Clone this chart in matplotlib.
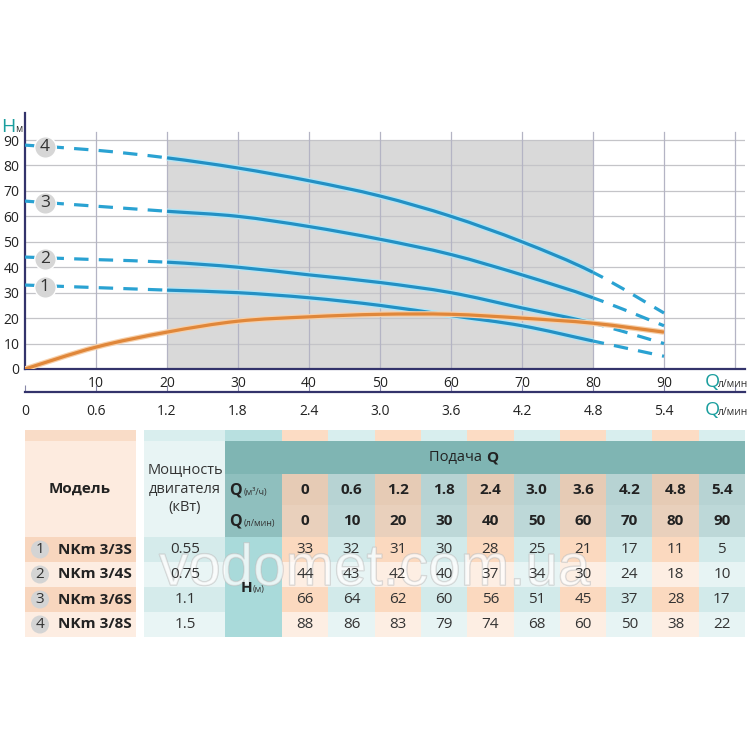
import numpy as np
import matplotlib
matplotlib.use("Agg")
import matplotlib.pyplot as plt
from matplotlib.patches import Rectangle, Circle, PathPatch
from matplotlib.path import Path
import matplotlib.patheffects as pe

plt.rcParams['font.family'] = ['Open Sans', 'DejaVu Sans']

# --- data -----------------------------------------------------------
q_lmin = [0, 10, 20, 30, 40, 50, 60, 70, 80, 90]
q_m3h = ['0', '0.6', '1.2', '1.8', '2.4', '3.0', '3.6', '4.2', '4.8', '5.4']
models = ['NKm 3/3S', 'NKm 3/4S', 'NKm 3/6S', 'NKm 3/8S']
power = ['0.55', '0.75', '1.1', '1.5']
head_1 = [33, 32, 31, 30, 28, 25, 21, 17, 11, 5]
head_2 = [44, 43, 42, 40, 37, 34, 30, 24, 18, 10]
head_3 = [66, 64, 62, 60, 56, 51, 45, 37, 28, 17]
head_4 = [88, 86, 83, 79, 74, 68, 60, 50, 38, 22]
heads = [head_1, head_2, head_3, head_4]
# orange curve
eff = [0, 8.6, 14.5, 18.8, 20.5, 21.5, 21.5, 20, 18, 14.5]

y_ticks = [0, 10, 20, 30, 40, 50, 60, 70, 80, 90]

blue = '#2390c4'
blue_dash = '#2aa2d2'
glow = '#b2e4f4'
orange = '#e0873a'
teal = '#1a9e9e'
navy = '#33336b'


def curve_path(xs, ys, i0, i1):
    # smooth bezier through the points i0..i1 (tangents from neighbours)
    n = len(xs)
    pts = np.column_stack([xs, ys]).astype(float)
    verts = [pts[i0]]
    codes = [Path.MOVETO]
    for i in range(i0, i1):
        p_prev = pts[max(i - 1, 0)]
        p0 = pts[i]
        p1 = pts[i + 1]
        p_next = pts[min(i + 2, n - 1)]
        c1 = p0 + (p1 - p_prev) / 6
        c2 = p1 - (p_next - p0) / 6
        verts += [c1, c2, p1]
        codes += [Path.CURVE4] * 3
    return Path(verts, codes)


fig = plt.figure(figsize=(7.5, 7.5), dpi=100)

# --- main chart -----------------------------------------------------
ax = fig.add_axes([25 / 750, 1 - 369 / 750, 720 / 750, 256 / 750])
ax.set_xlim(0, 720 / 7.1)
ax.set_ylim(0, 256 / 2.544)
for s in ['top', 'right']:
    ax.spines[s].set_visible(False)
for s in ['left', 'bottom']:
    ax.spines[s].set_color(navy)
    ax.spines[s].set_linewidth(1.6)

ax.add_patch(Rectangle((20, 0), 60, 90, facecolor='#d9d9d9', edgecolor='none', zorder=0))
for y in y_ticks[1:]:
    ax.axhline(y, color='#c4c4c8', lw=0.9, zorder=1)
for x in range(10, 101, 10):
    ax.plot([x, x], [0, 93], color='#b4b4c4', lw=0.9, zorder=1)

ax.set_yticks(y_ticks)
ax.set_yticklabels([str(v) for v in y_ticks], fontsize=10, color='#222')
ax.set_xticks(q_lmin[1:])
ax.set_xticklabels([str(v) for v in q_lmin[1:]], fontsize=10, color='#222')
ax.tick_params(axis='both', length=0)
ax.tick_params(axis='x', pad=5)
ax.tick_params(axis='y', pad=4)

effects = [pe.Stroke(linewidth=4.2, foreground=glow), pe.Normal()]
for i, h in enumerate(heads):
    ax.add_patch(PathPatch(curve_path(q_lmin, h, 0, 2), fill=False, edgecolor=blue_dash,
                           lw=2.3, linestyle=(0, (4.5, 3.2)), zorder=3))
    ax.add_patch(PathPatch(curve_path(q_lmin, h, 2, 8), fill=False, edgecolor=blue,
                           lw=2.3, zorder=4, path_effects=effects, capstyle='butt'))
    ax.add_patch(PathPatch(curve_path(q_lmin, h, 8, 9), fill=False, edgecolor=blue_dash,
                           lw=2.3, linestyle=(1, (4.5, 3.2)), zorder=3))
    ax.scatter([2.8], [h[0] - 0.6], s=240, color='#d6d6d6', edgecolor='white', lw=1, zorder=5)
    ax.text(2.8, h[0] - 0.6, str(i + 1), ha='center', va='center', fontsize=12.5,
            color='#333', zorder=6)

ax.add_patch(PathPatch(curve_path(q_lmin, eff, 0, 9), fill=False, edgecolor=orange,
                       lw=2.3, zorder=4,
                       path_effects=[pe.Stroke(linewidth=4.0, foreground='#f7d0aa'),
                                     pe.Normal()]))

# --- second axis (m3/h) ---------------------------------------------
ax2 = fig.add_axes([25 / 750, 1 - 392 / 750, 720 / 750, 0.0001])
ax2.set_xlim(0, 720 / 7.1)
ax2.set_yticks([])
for s in ['top', 'right', 'left']:
    ax2.spines[s].set_visible(False)
ax2.spines['bottom'].set_color(navy)
ax2.spines['bottom'].set_linewidth(1.6)
ax2.set_xticks(q_lmin + [100])
ax2.set_xticklabels(q_m3h + [''], fontsize=10, color='#222')
ax2.tick_params(axis='x', direction='in', length=5, color='#8888a8', pad=9)
ax2.patch.set_visible(False)

# --- overlay in pixel coordinates ------------------------------------
ov = fig.add_axes([0, 0, 1, 1], zorder=10)
ov.set_xlim(0, 750)
ov.set_ylim(750, 0)
ov.axis('off')
ov.patch.set_visible(False)

ov.text(1, 132, 'H', color=teal, fontsize=14, va='baseline')
ov.text(15, 132, 'м', color='#333', fontsize=7, va='baseline')
for yb in [387, 415]:
    ov.text(705, yb, 'Q', color=teal, fontsize=14, va='baseline')
    ov.text(718, yb, 'л/мин', color='#333', fontsize=7.5, va='baseline')

# --- table -----------------------------------------------------------
col0, cw = 282, 46.3
rh = 25
r_strip, r_band, r_q1, r_q2, r_data = 430, 441, 474, 505, 537
r_end = r_data + 4 * rh


def rect(x0, y0, x1, y1, c):
    ov.add_patch(Rectangle((x0, y0), x1 - x0, y1 - y0, facecolor=c, edgecolor='none', zorder=1))


# model block
rect(25, r_strip, 136, r_band, '#f9dcc7')
rect(25, r_band, 136, r_data, '#fdebdf')
for k in range(4):
    rect(25, r_data + k * rh, 136, r_data + (k + 1) * rh, '#f8d6be' if k % 2 == 0 else '#fdede2')
# power column
rect(144, r_strip, 225, r_band, '#d9eeee')
rect(144, r_band, 225, r_data, '#e8f4f4')
for k in range(4):
    rect(144, r_data + k * rh, 225, r_data + (k + 1) * rh, '#d5ebeb' if k % 2 == 0 else '#e9f5f5')
# Q label / H column
rect(225, r_strip, col0, r_band, '#b8e0e0')
rect(225, r_band, 745, r_q1, '#7fb5b3')
rect(225, r_q1, col0, r_data, '#8fbfbe')
rect(225, r_data, col0, r_end, '#a9dada')
# value columns
for j in range(10):
    x0 = col0 + j * cw
    x1 = x0 + cw
    pe_col = j % 2 == 0
    rect(x0, r_strip, x1, r_band, '#fcdcc4' if pe_col else '#d8eeee')
    rect(x0, r_q1, x1, r_q2, '#e6cbb5' if pe_col else '#b7d3d3')
    rect(x0, r_q2, x1, r_data, '#e9d0bc' if pe_col else '#bdd8d8')
    for k in range(4):
        if pe_col:
            c = '#fbd9bf' if k % 2 == 0 else '#fdeee3'
        else:
            c = '#d2eaea' if k % 2 == 0 else '#e7f4f4'
        rect(x0, r_data + k * rh, x1, r_data + (k + 1) * rh, c)
    xc = (x0 + x1) / 2
    ov.text(xc, (r_q1 + r_q2) / 2, q_m3h[j], ha='center', va='center', fontsize=11,
            fontweight='bold', color='#222', zorder=3)
    ov.text(xc, (r_q2 + r_data) / 2, str(q_lmin[j]), ha='center', va='center', fontsize=11,
            fontweight='bold', color='#222', zorder=3)
    for k, h in enumerate(heads):
        ov.text(xc, r_data + k * rh + rh / 2, str(h[j]), ha='center', va='center',
                fontsize=11, color='#333', zorder=3)

ov.text(80, 489, 'Модель', ha='center', va='center', fontsize=11, fontweight='bold',
        color='#222', zorder=3)
ov.text(185, 489, 'Мощность\nдвигателя\n(кВт)', ha='center', va='center', fontsize=10.5,
        color='#333', linespacing=1.35, zorder=3)
ov.text(486, 458, 'Подача ', ha='right', va='center', fontsize=10.5, color='#222', zorder=3)
ov.text(486, 458, 'Q', ha='left', va='center', fontsize=11, fontweight='bold',
        color='#222', zorder=3)
for yc, unit in [((r_q1 + r_q2) / 2, '(м³/ч)'), ((r_q2 + r_data) / 2, '(л/мин)')]:
    ov.text(229, yc + 5, 'Q', ha='left', va='baseline', fontsize=11.5, fontweight='bold',
            color='#222', zorder=3)
    ov.text(244, yc + 5, unit, ha='left', va='baseline', fontsize=6.5, color='#333', zorder=3)
ov.text(241, (r_data + r_end) / 2 + 5, 'H', ha='left', va='baseline', fontsize=11,
        fontweight='bold', color='#222', zorder=3)
ov.text(253, (r_data + r_end) / 2 + 5, '(м)', ha='left', va='baseline', fontsize=6.5,
        color='#333', zorder=3)

for k in range(4):
    yc = r_data + k * rh + rh / 2
    ov.add_patch(Circle((40, yc), 9, facecolor='#d4d4d4', edgecolor='none', zorder=2))
    ov.text(40, yc, str(k + 1), ha='center', va='center', fontsize=11, color='#333', zorder=3)
    ov.text(58, yc, models[k], ha='left', va='center', fontsize=11, fontweight='bold',
            color='#222', zorder=3)
    ov.text(185, yc, power[k], ha='center', va='center', fontsize=11, color='#333', zorder=3)

# watermark, under the table text
ov.text(375, 570, 'vodomet.com.ua', ha='center', va='center', fontsize=42,
        family='Liberation Sans', color='white', alpha=0.35, zorder=2,
        path_effects=[pe.withStroke(linewidth=1.0, foreground='#bcbcbc', alpha=0.6)])

fig.savefig('out.png', dpi=100)
